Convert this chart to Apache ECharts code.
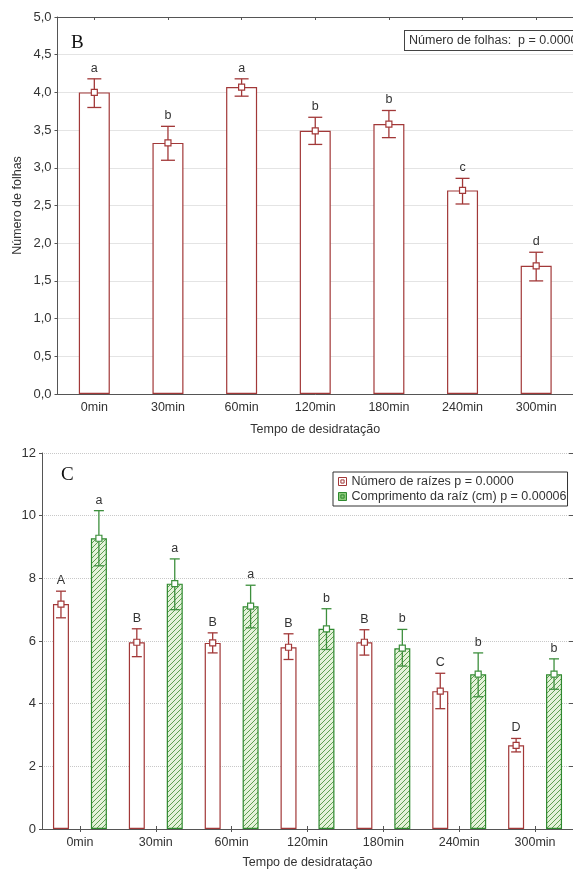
<!DOCTYPE html>
<html><head><meta charset="utf-8">
<script src="https://cdn.jsdelivr.net/npm/echarts@6/dist/echarts.min.js"></script>
<style>html,body{margin:0;padding:0;background:#fff}#c{width:573px;height:870px}</style>
</head><body><div id="c"></div>
<script>
// ---- data ----
const categories = ['0min','30min','60min','120min','180min','240min','300min'];

const folhasMean = [4.00, 3.33, 4.07, 3.49, 3.58, 2.70, 1.70];
const folhasLow  = [3.80, 3.10, 3.95, 3.31, 3.40, 2.52, 1.50];
const folhasHigh = [4.18, 3.55, 4.18, 3.67, 3.76, 2.86, 1.88];
const folhasLetters = ['a','b','a','b','b','c','d'];

const raizesMean = [7.18, 5.96, 5.94, 5.80, 5.96, 4.40, 2.67];
const raizesLow  = [6.74, 5.50, 5.62, 5.41, 5.55, 3.84, 2.46];
const raizesHigh = [7.59, 6.39, 6.26, 6.23, 6.36, 4.97, 2.89];
const raizesLetters = ['A','B','B','B','B','C','D'];

const comprMean = [9.28, 7.83, 7.11, 6.39, 5.77, 4.94, 4.94];
const comprLow  = [8.40, 7.00, 6.42, 5.73, 5.20, 4.22, 4.46];
const comprHigh = [10.16, 8.62, 7.78, 7.03, 6.37, 5.62, 5.43];
const comprLetters = ['a','a','a','b','b','b','b'];

const nameFolhas = 'Número de folhas';
const nameRaizes = 'Número de raízes';
const nameCompr = 'Comprimento da raíz (cm)';
const pFolhas = 'p = 0.0000';
const pRaizes = 'p = 0.0000';
const pCompr = 'p = 0.00006';
const xTitle = 'Tempo de desidratação';

// ---- styles ----
const FONT = 'Liberation Sans, Arial, sans-serif';
const RED = '#a23838';
const GREEN = '#2f8a2f';
const GREEN_ERR = '#3d8f3d';
const AX = '#555';
const TXT = '#333';

function hatchCanvas() {
  const s = 5;
  const c = document.createElement('canvas');
  c.width = s; c.height = s;
  const g = c.getContext('2d');
  g.fillStyle = '#e4f2da';
  g.fillRect(0, 0, s, s);
  g.strokeStyle = '#5f9f52';
  g.lineWidth = 1;
  g.beginPath();
  g.moveTo(-1, s + 1); g.lineTo(s + 1, -1);
  g.moveTo(-1, 1); g.lineTo(1, -1);
  g.moveTo(s - 1, s + 1); g.lineTo(s + 1, s - 1);
  g.stroke();
  return c;
}
const hatch = { image: hatchCanvas(), repeat: 'repeat' };

function errSeries(name, xi, yi, mean, low, high, letters, color, offsetFrac, capW) {
  return {
    type: 'custom', name: name, xAxisIndex: xi, yAxisIndex: yi, z: 5,
    data: categories.map((c, i) => [i, mean[i], low[i], high[i]]),
    encode: { x: 0, y: [1, 2, 3] },
    renderItem: function (params, api) {
      const i = api.value(0);
      const band = api.size([1, 0])[0];
      const pm = api.coord([i, api.value(1)]);
      const pl = api.coord([i, api.value(2)]);
      const ph = api.coord([i, api.value(3)]);
      const x = pm[0] + band * offsetFrac;
      const ls = { stroke: color, lineWidth: 1.3 };
      return { type: 'group', children: [
        { type: 'line', shape: { x1: x, y1: ph[1], x2: x, y2: pl[1] }, style: ls },
        { type: 'line', shape: { x1: x - capW / 2, y1: ph[1], x2: x + capW / 2, y2: ph[1] }, style: ls },
        { type: 'line', shape: { x1: x - capW / 2, y1: pl[1], x2: x + capW / 2, y2: pl[1] }, style: ls },
        { type: 'rect', shape: { x: x - 3, y: pm[1] - 3, width: 6, height: 6 }, style: { fill: '#fff', stroke: color, lineWidth: 1.2 } },
        { type: 'text', x: x, y: ph[1] - 4, style: { text: letters[i], fill: TXT, font: '12.5px ' + FONT, align: 'center', verticalAlign: 'bottom' } }
      ] };
    }
  };
}

function catAxis(gi, pos, showLabel, name, nameGap) {
  return {
    type: 'category', gridIndex: gi, position: pos, data: categories,
    axisLine: { show: true, lineStyle: { color: AX, width: 1 } },
    axisTick: { show: true, inside: true, alignWithLabel: true, length: 3, lineStyle: { color: AX } },
    axisLabel: { show: showLabel, color: TXT, fontFamily: FONT, fontSize: 12.5, margin: 7 },
    name: name, nameLocation: 'middle', nameGap: nameGap, nameMoveOverlap: false,
    nameTextStyle: { color: TXT, fontFamily: FONT, fontSize: 12.5 },
    splitLine: { show: false }
  };
}

const chart = echarts.init(document.getElementById('c'), null, { renderer: 'canvas' });
chart.setOption({
  animation: false,
  backgroundColor: '#fff',
  title: [
    { text: 'B', left: 71, top: 34, padding: 0, textStyle: { fontFamily: 'Liberation Serif, serif', fontSize: 19, fontWeight: 'normal', color: '#111' } },
    { text: 'C', left: 61, top: 466, padding: 0, textStyle: { fontFamily: 'Liberation Serif, serif', fontSize: 19, fontWeight: 'normal', color: '#111' } }
  ],
  grid: [
    { left: 57.5, top: 17, width: 525, height: 377 },
    { left: 42, top: 453, width: 532, height: 377 }
  ],
  xAxis: [
    catAxis(0, 'bottom', true, xTitle, 29),
    catAxis(0, 'top', false, '', 0),
    catAxis(1, 'bottom', true, xTitle, 27),
    catAxis(1, 'top', false, '', 0)
  ],
  yAxis: [
    {
      type: 'value', gridIndex: 0, min: 0, max: 5, interval: 0.5, position: 'left',
      axisLine: { show: true, lineStyle: { color: AX } },
      axisTick: { show: true, length: 3, lineStyle: { color: AX } },
      axisLabel: { color: TXT, fontFamily: FONT, fontSize: 13, margin: 6, formatter: v => v.toFixed(1).replace('.', ',') },
      splitLine: { show: true, lineStyle: { color: '#c8c8c8', type: 'dotted', width: 1 } },
      name: nameFolhas, nameLocation: 'middle', nameGap: 33, nameMoveOverlap: false,
      nameTextStyle: { color: TXT, fontFamily: FONT, fontSize: 12.5 }
    },
    {
      type: 'value', gridIndex: 1, min: 0, max: 12, interval: 2, position: 'left',
      axisLine: { show: true, lineStyle: { color: AX } },
      axisTick: { show: true, length: 3, lineStyle: { color: AX } },
      axisLabel: { color: TXT, fontFamily: FONT, fontSize: 13, margin: 6 },
      splitLine: { show: true, lineStyle: { color: '#c8c8c8', type: 'dotted', width: 1 } }
    },
    {
      type: 'value', gridIndex: 1, min: 0, max: 12, interval: 2, position: 'right',
      axisLine: { show: true, lineStyle: { color: AX } },
      axisTick: { show: true, inside: true, length: 4, lineStyle: { color: AX } },
      axisLabel: { show: false },
      splitLine: { show: false }
    }
  ],
  legend: {
    left: 333, top: 472, orient: 'vertical',
    data: [
      { name: nameRaizes, icon: 'path://M0,0H10V10H0Z M3,3H7V7H3Z', itemStyle: { color: '#fff', borderColor: RED, borderWidth: 1 } },
      { name: nameCompr, icon: 'path://M0,0H10V10H0Z M3,3H7V7H3Z', itemStyle: { color: '#8cc97a', borderColor: GREEN, borderWidth: 1 } }
    ],
    formatter: n => n + ' ' + (n === nameRaizes ? pRaizes : pCompr),
    itemWidth: 8, itemHeight: 8, itemGap: 2,
    padding: [3, 1, 3, 5],
    borderColor: '#333', borderWidth: 1, backgroundColor: '#fff',
    textStyle: { color: TXT, fontFamily: FONT, fontSize: 12.5, lineHeight: 13 }
  },
  graphic: [
    {
      type: 'text', left: 404, top: 30, z: 10,
      style: {
        text: nameFolhas + ':  ' + pFolhas, fill: TXT, font: '12.5px ' + FONT,
        backgroundColor: '#fff', borderColor: '#444', borderWidth: 1, padding: [3, 4, 3, 4]
      }
    }
  ],
  series: [
    {
      type: 'bar', name: nameFolhas, xAxisIndex: 0, yAxisIndex: 0, data: folhasMean, barWidth: 31,
      itemStyle: { color: '#fff', borderColor: RED, borderWidth: 1.2 }, silent: true
    },
    errSeries('ebF', 0, 0, folhasMean, folhasLow, folhasHigh, folhasLetters, RED, 0, 14),
    {
      type: 'bar', name: nameRaizes, xAxisIndex: 2, yAxisIndex: 1, data: raizesMean, barWidth: 16, barGap: '137%',
      itemStyle: { color: '#fff', borderColor: RED, borderWidth: 1.2 }, silent: true
    },
    {
      type: 'bar', name: nameCompr, xAxisIndex: 2, yAxisIndex: 1, data: comprMean, barWidth: 16, barGap: '137%',
      itemStyle: { color: hatch, borderColor: GREEN, borderWidth: 1.2 }, silent: true
    },
    errSeries('ebR', 2, 1, raizesMean, raizesLow, raizesHigh, raizesLetters, RED, -0.25, 10),
    errSeries('ebC', 2, 1, comprMean, comprLow, comprHigh, comprLetters, GREEN_ERR, 0.25, 10)
  ]
});
</script>
</body></html>
